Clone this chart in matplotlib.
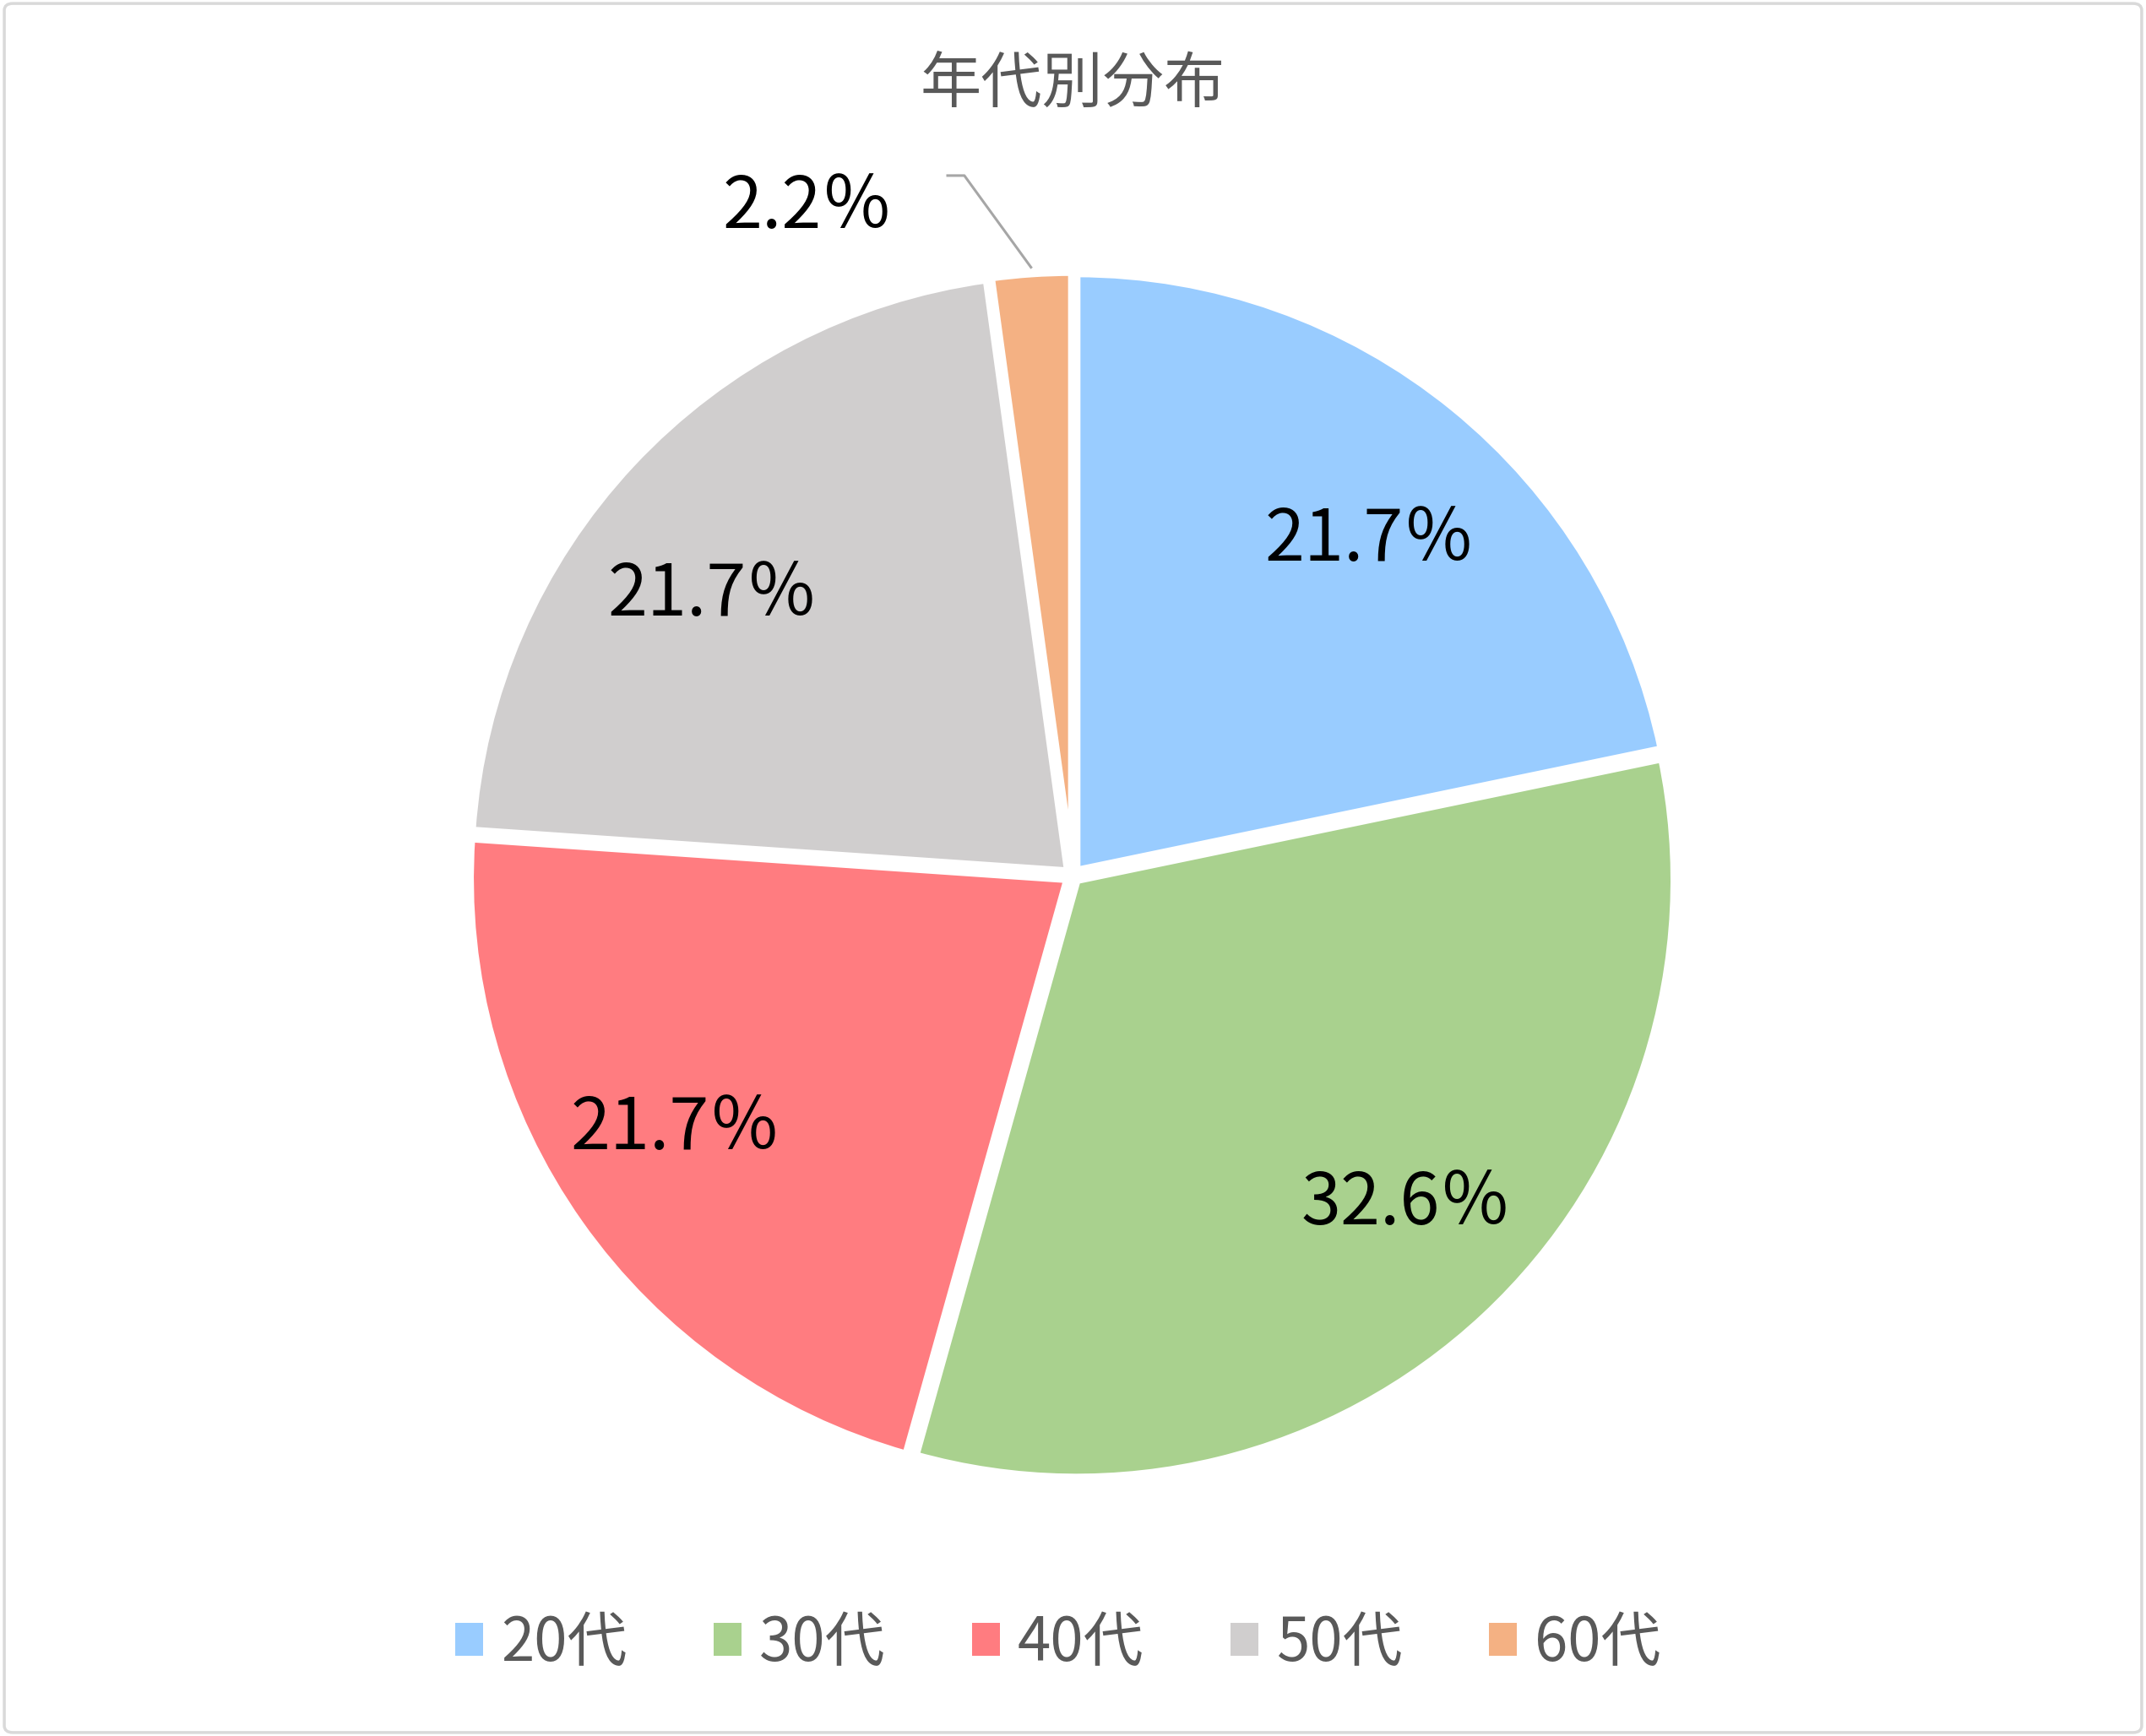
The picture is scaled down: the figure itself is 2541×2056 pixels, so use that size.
import numpy as np
import matplotlib.pyplot as plt
from matplotlib.patches import Patch, FancyBboxPatch

plt.rcParams['font.family'] = ['Noto Sans CJK JP', 'DejaVu Sans']

# --- データ ---
labels = ['20代', '30代', '40代', '50代', '60代']
counts = [10, 15, 10, 10, 1]
colors = ['#99CCFF', '#A9D18E', '#FF7C80', '#D0CECE', '#F4B183']
title = '年代別分布'

W, H, DPI = 2541, 2056, 100
fig = plt.figure(figsize=(W / DPI, H / DPI), dpi=DPI)
ax = fig.add_axes([0, 0, 1, 1])

# 円の中心と半径 (ピクセル)
cx, cy, R = 1270, 1037, 708

total = sum(counts)

wedges, texts = ax.pie(
    counts, colors=colors, startangle=90, counterclock=False,
    explode=[0.01] * len(counts),
    wedgeprops=dict(edgecolor='white', linewidth=7))

ax.set_xlim(-cx / R, (W - cx) / R)
ax.set_ylim(-(H - cy) / R, cy / R)
ax.set_aspect('auto')
ax.axis('off')

# --- ラベル位置 (Excel 風の配置) ---
label_pos = [(0.497, 0.561), (0.558, -0.549), (-0.664, -0.423), (-0.602, 0.469)]
for c, (lx, ly) in zip(counts[:4], label_pos):
    ax.text(lx, ly, f'{c / total * 100:.1f}％', fontsize=61, color='black',
            ha='center', va='center')

# --- 小さいスライスのラベル (引き出し線付き) ---
w = wedges[-1]
mid = np.deg2rad((w.theta1 + w.theta2) / 2)
x_end, y_end = 1.02 * np.cos(mid), 1.02 * np.sin(mid)
elbow = (-0.181, 1.171)
ax.plot([-0.209, elbow[0], x_end], [elbow[1], elbow[1], y_end],
        color='#A6A6A6', linewidth=2.2)
ax.text(-0.442, 1.118, f'{counts[-1] / total * 100:.1f}％',
        fontsize=61, color='black', ha='center', va='center')

# --- タイトル ---
fig.text(0.5, 1 - 100 / H, title, fontsize=52, color='#595959',
         ha='center', va='center')

# --- 凡例 ---
handles = [Patch(facecolor=c, edgecolor='none') for c in colors]
fig.legend(handles, labels, loc='center', bbox_to_anchor=(0.493, 1 - 1946 / H),
           ncol=5, frameon=False, fontsize=51, labelcolor='#595959',
           handlelength=0.46, handleheight=0.46, handletextpad=0.3,
           columnspacing=1.45)

# --- 枠線 ---
fig.patches.append(FancyBboxPatch(
    (0.002, 0.002), 0.996, 0.996, boxstyle='round,pad=0,rounding_size=0.004',
    transform=fig.transFigure, facecolor='none', edgecolor='#D9D9D9',
    linewidth=2.5))

fig.savefig('out.png', dpi=DPI, facecolor='white')
